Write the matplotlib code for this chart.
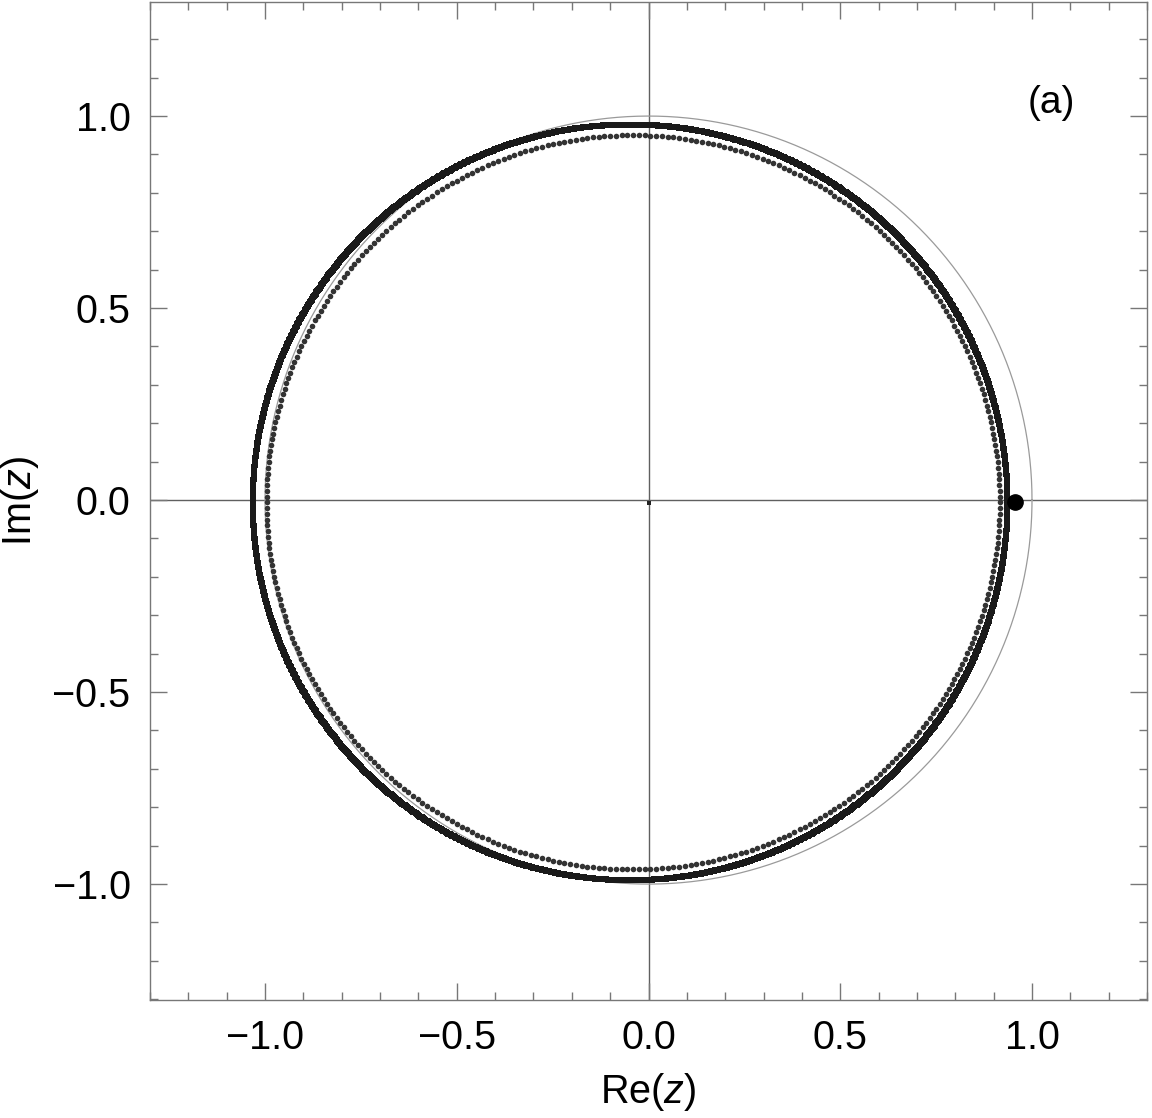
import numpy as np
import matplotlib
matplotlib.use("Agg")
import matplotlib.pyplot as plt
from matplotlib.ticker import MultipleLocator

plt.rcParams['font.family'] = ['Liberation Sans', 'DejaVu Sans']
plt.rcParams['mathtext.fontset'] = 'custom'
plt.rcParams['mathtext.rm'] = 'Liberation Sans'
plt.rcParams['mathtext.it'] = 'Liberation Sans:italic'

# ring data: centre (re, im), radius, number of points
outer_center = (-0.048, -0.006)
outer_radius = 0.984
outer_count = 1600
inner_center = (-0.040, -0.006)
inner_radius = 0.956
inner_count = 400

# single marked points
big_point = (0.955, -0.005)
origin_point = (0.0, -0.008)

x_ticks = [-1.0, -0.5, 0.0, 0.5, 1.0]
y_ticks = [-1.0, -0.5, 0.0, 0.5, 1.0]
x_range = (-1.3, 1.3)
y_range = (-1.302, 1.297)

frame_col = '#777777'


def ring(center, radius, n):
    t = np.linspace(0, 2 * np.pi, n, endpoint=False)
    return center[0] + radius * np.cos(t), center[1] + radius * np.sin(t)


fig = plt.figure(figsize=(11.52, 11.18), dpi=100)
ax = fig.add_axes([0.1302, 0.1055, 0.8655, 0.8927])

# reference unit circle
tc = np.linspace(0, 2 * np.pi, 720)
ax.plot(np.cos(tc), np.sin(tc), color='#9a9a9a', lw=0.9, zorder=2)

# axes through origin
ax.axhline(0, color='#606060', lw=1.0, zorder=1)
ax.axvline(0, color='#606060', lw=1.0, zorder=1)

ox, oy = ring(outer_center, outer_radius, outer_count)
ax.plot(ox, oy, 's', ms=4.4, color='#1a1a1a', mew=0, zorder=3)
ix, iy = ring(inner_center, inner_radius, inner_count)
ax.plot(ix, iy, 'o', ms=4.0, color='#333333', mew=0, zorder=3)

ax.plot(*big_point, 'o', ms=11, color='black', zorder=4)
ax.plot(*origin_point, 's', ms=3, color='#222222', mew=0, zorder=4)

ax.set_xlim(*x_range)
ax.set_ylim(*y_range)

ax.set_xticks(x_ticks)
ax.set_yticks(y_ticks)
ax.set_xticklabels([f'{v:.1f}'.replace('-', '\u2212') for v in x_ticks])
ax.set_yticklabels([f'{v:.1f}'.replace('-', '\u2212') for v in y_ticks])
ax.xaxis.set_minor_locator(MultipleLocator(0.1))
ax.yaxis.set_minor_locator(MultipleLocator(0.1))
ax.tick_params(which='both', direction='in', top=True, right=True,
               color=frame_col, width=1.0)
ax.tick_params(which='major', length=12, labelsize=28.5, pad=14)
ax.tick_params(which='minor', length=6)
for sp in ax.spines.values():
    sp.set_color(frame_col)
    sp.set_linewidth(1.0)

ax.set_xlabel(r'Re($\it{z}$)', fontsize=28.5, labelpad=10)
ax.set_ylabel(r'Im($\it{z}$)', fontsize=28.5, labelpad=8)

ax.text(1.05, 1.035, '(a)', fontsize=28, ha='center', va='center')

fig.savefig('out.png', dpi=100)
